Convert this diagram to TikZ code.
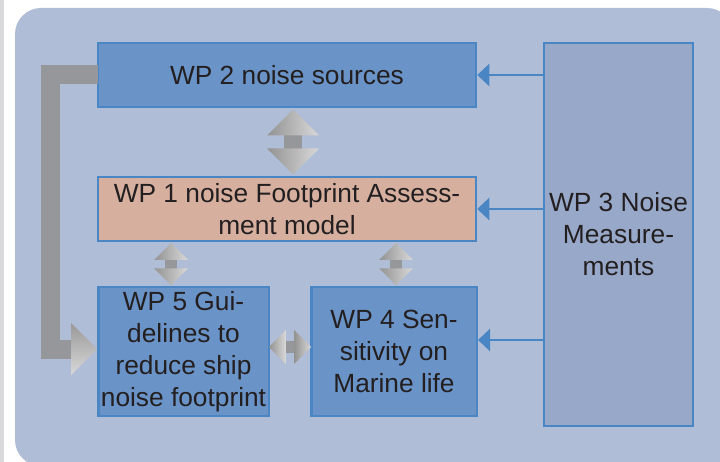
\documentclass[tikz,border=0pt]{standalone}
\usepackage{fontspec}
\setmainfont{Liberation Sans}
\usetikzlibrary{arrows.meta, calc}
\definecolor{panelblue}{HTML}{B0BDD6}
\definecolor{wpblue}{HTML}{6A93C7}
\definecolor{wpsalmon}{HTML}{D6AF9F}
\definecolor{wpgrey}{HTML}{97A8C9}
\definecolor{wpborder}{HTML}{4A86C4}
\definecolor{bargray}{HTML}{96979A}
\definecolor{stripgray}{HTML}{D9D9DB}
\definecolor{textdark}{HTML}{231F20}
\tikzset{
  wpbox/.style={rectangle, draw=wpborder, line width=2.5pt, fill=wpblue, align=center, inner sep=0pt, text=textdark, font=\fontsize{26.3}{32}\selectfont},
  wpfeed/.style={draw=wpborder, line width=2.5pt, -{Triangle[length=12pt, width=22pt]}},
  graybar/.style={draw=bargray, line width=19pt, line join=miter},
  headshade/.style={left color=gray!85, right color=gray!30},
  bighead/.style={top color=gray!80, bottom color=gray!30},
  dblarrow/.pic={
    \fill[bargray] (-9,-7) rectangle (9,7);
    \shade[headshade] (0,-32.5) -- (26,-6.5) -- (-26,-6.5) -- cycle;
    \shade[headshade] (0,32.5) -- (26,6.5) -- (-26,6.5) -- cycle;
  }
}

\begin{document}
\begin{tikzpicture}[x=1pt, y=-1pt]
    \useasboundingbox (0,0) rectangle (720,462);
    % Background panel
    \fill[stripgray] (0,0) rectangle (4,462);
    \fill[panelblue, rounded corners=26pt] (15,8) rectangle (733,466);
    % Work packages
    \node[wpbox, minimum width=378, minimum height=64] (wp2) at (287,75) {WP 2 noise sources};
    \node[wpbox, fill=wpsalmon, minimum width=378, minimum height=64] (wp1) at (287,209) {WP 1 noise Footprint Assess-\\ment model};
    \node[wpbox, fill=wpgrey, minimum width=149, minimum height=383] (wp3) at (618.5,234.5) {WP 3 Noise\\Measure-\\ments};
    \node[wpbox, minimum width=170.5, minimum height=128.5] (wp5) at (183.5,351.5) {WP 5 Gui-\\delines to\\reduce ship\\noise footprint};
    \node[wpbox, minimum width=165.5, minimum height=128.5] (wp4) at (394,351.5) {WP 4 Sen-\\sitivity on\\Marine life};
    % Feedback loop WP 2 -> WP 5
    \coordinate (lhead) at ($(wp5.west)+(-26,-2.5)$);
    \draw[graybar] ($(wp2.west)+(1,0)$) -- ++(-47.5,0) |- (lhead);
    \shade[bighead] ($(lhead)+(0,-26)$) -- ($(lhead)+(26,0)$) -- ($(lhead)+(0,26)$) -- cycle;
    % Exchange arrows
    \pic at ($(wp2.south)!0.5!(wp1.north)+(6,0)$) {dblarrow};
    \pic[scale=0.65] at ($(wp5.north)!0.5!(wp5.north |- wp1.south)+(-12.5,0)$) {dblarrow};
    \pic[scale=0.65] at ($(wp4.north)!0.5!(wp4.north |- wp1.south)+(2,0)$) {dblarrow};
    \pic[scale=0.65, rotate=90] at ($(wp5.east)!0.5!(wp4.west)+(0,-4.5)$) {dblarrow};
    % Measurements feed
    \coordinate (wp4in) at ($(wp4.east)+(0,-11.5)$);
    \draw[wpfeed] (wp3.west |- wp2.east) -- (wp2.east);
    \draw[wpfeed] (wp3.west |- wp1.east) -- (wp1.east);
    \draw[wpfeed] (wp3.west |- wp4in) -- (wp4in);
\end{tikzpicture}
\end{document}
